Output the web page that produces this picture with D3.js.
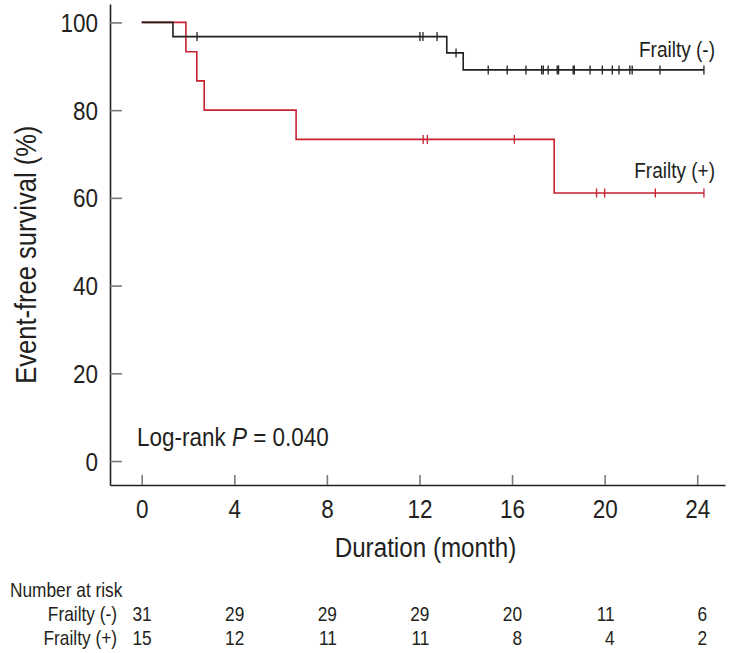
<!DOCTYPE html>
<html>
<head>
<meta charset="utf-8">
<script src="https://cdn.jsdelivr.net/npm/d3@7"></script>
<style>
  html, body { margin: 0; padding: 0; background: #fff; }
  svg text { font-family: "Liberation Sans", Arial, Helvetica, sans-serif; fill: #231f20; }
</style>
</head>
<body>
<svg id="chart" width="733" height="653"></svg>
<script>
// ---- Data ----
const xTicks = [0, 4, 8, 12, 16, 20, 24];
const yTicks = [0, 20, 40, 60, 80, 100];

// Frailty (-) : step times and survival (%)
const negTimes = [0, 1.35, 13.18, 13.89];
const negSurv  = [100, 96.77, 93.05, 89.17];
const negEnd   = 24.29;
const negCensor = [2.39, 12.02, 12.15, 12.76, 13.58, 14.97, 15.79, 16.6, 17.28, 17.35, 17.56,
                   17.95, 18.01, 18.64, 18.69, 19.37, 19.9, 20.33, 20.62, 21.09, 21.19, 22.39, 24.29];

// Frailty (+)
const posTimes = [0, 1.91, 2.38, 2.70, 6.67, 17.82];
const posSurv  = [100, 93.33, 86.67, 80.0, 73.33, 61.1];
const posEnd   = 24.29;
const posCensor = [12.16, 12.34, 16.1, 19.65, 20.0, 22.19, 24.29];

// Number at risk
const riskTimes = [0, 4, 8, 12, 16, 20, 24];
const riskNeg = [31, 29, 29, 29, 20, 11, 6];
const riskPos = [15, 12, 11, 11, 8, 4, 2];
const groupNames = ["Frailty (-)", "Frailty (+)"];

// ---- Drawing ----
const svg = d3.select("#chart");
const BLACK = "#231f20", RED = "#c8202f", TICK = "#7a7a7a";
const NARROW = 0.865; // condensed look

const x = d3.scaleLinear().domain([-1.37, 25.2]).range([110, 725]);
const y = d3.scaleLinear().domain([-5.47, 104.2]).range([485, 4]);

// axes
const yAxis = d3.axisLeft(y).tickValues(yTicks).tickSizeInner(-12).tickSizeOuter(0).tickPadding(12);
const gy = svg.append("g").attr("transform", `translate(${x(-1.37)},0)`).call(yAxis);
gy.select(".domain").attr("stroke", BLACK).attr("stroke-width", 1.6);
gy.selectAll(".tick line").attr("stroke", TICK).attr("stroke-width", 1.6);
gy.selectAll(".tick text").attr("font-size", 26).attr("dy", "0.35em").attr("fill", BLACK);

const xAxis = d3.axisBottom(x).tickValues(xTicks).tickSizeInner(-10).tickSizeOuter(0).tickPadding(15);
const gx = svg.append("g").attr("transform", `translate(0,${y(-5.47)})`).call(xAxis);
gx.select(".domain").attr("stroke", BLACK).attr("stroke-width", 1.6);
gx.selectAll(".tick line").attr("stroke", TICK).attr("stroke-width", 1.6);
gx.selectAll(".tick text").attr("font-size", 26).attr("fill", BLACK);

// axis titles
svg.append("g").attr("transform", `translate(36,${(y(0) + y(100)) / 2 + 13}) rotate(-90)`)
  .append("text").attr("x", 0).attr("y", 0)
  .attr("text-anchor", "middle").attr("font-size", 29.5)
  .text("Event-free survival (%)");
svg.append("text")
  .attr("x", (x(0) + x(24)) / 2 + 6).attr("y", 557)
  .attr("text-anchor", "middle").attr("font-size", 28)
  .text("Duration (month)");

// curves
function stepPoints(times, surv, end) {
  const pts = times.map((t, i) => [t, surv[i]]);
  pts.push([end, surv[surv.length - 1]]);
  return pts;
}
function survAt(times, surv, t) {
  let s = surv[0];
  for (let i = 0; i < times.length; i++) if (times[i] <= t) s = surv[i];
  return s;
}
const line = d3.line().x(d => x(d[0])).y(d => y(d[1])).curve(d3.curveStepAfter);

function drawGroup(times, surv, end, censor, color) {
  svg.append("path").datum(stepPoints(times, surv, end))
    .attr("d", line).attr("fill", "none").attr("stroke", color).attr("stroke-width", 1.6);
  svg.append("g").selectAll("line").data(censor).join("line")
    .attr("x1", d => x(d)).attr("x2", d => x(d))
    .attr("y1", d => y(survAt(times, surv, d)) - 4.5)
    .attr("y2", d => y(survAt(times, surv, d)) + 4.5)
    .attr("stroke", color).attr("stroke-width", 1.3);
}
drawGroup(posTimes, posSurv, posEnd, posCensor, RED);
drawGroup(negTimes, negSurv, negEnd, negCensor, BLACK);

// curve labels
svg.append("text").attr("x", 715).attr("y", 57).attr("text-anchor", "end")
  .attr("font-size", 22).text(groupNames[0]);
svg.append("text").attr("x", 715).attr("y", 178).attr("text-anchor", "end")
  .attr("font-size", 22).text(groupNames[1]);

// log-rank
const lr = svg.append("text").attr("x", 137).attr("y", 446).attr("font-size", 26);
lr.append("tspan").text("Log-rank ");
lr.append("tspan").attr("font-style", "italic").text("P");
lr.append("tspan").text(" = 0.040");

// number at risk
svg.append("text").attr("x", 10).attr("y", 597).attr("font-size", 20).text("Number at risk");
const rows = [riskNeg, riskPos];
rows.forEach((vals, r) => {
  const yy = 621 + r * 24;
  svg.append("text").attr("x", 117).attr("y", yy).attr("text-anchor", "end")
    .attr("font-size", 20).text(groupNames[r]);
  svg.append("g").selectAll("text").data(vals).join("text")
    .attr("x", (d, i) => x(riskTimes[i]) + 10).attr("y", yy)
    .attr("text-anchor", "end").attr("font-size", 20).text(d => d);
});

// condense every text horizontally (emulates a narrow typeface)
svg.selectAll("text").each(function () {
  const t = d3.select(this);
  const tx = +(t.attr("x") || 0), ty = +(t.attr("y") || 0);
  const prev = t.attr("transform") || "";
  t.attr("x", 0).attr("y", 0)
   .attr("transform", `${prev} translate(${tx},${ty}) scale(${NARROW},1)`);
});
</script>
</body>
</html>
